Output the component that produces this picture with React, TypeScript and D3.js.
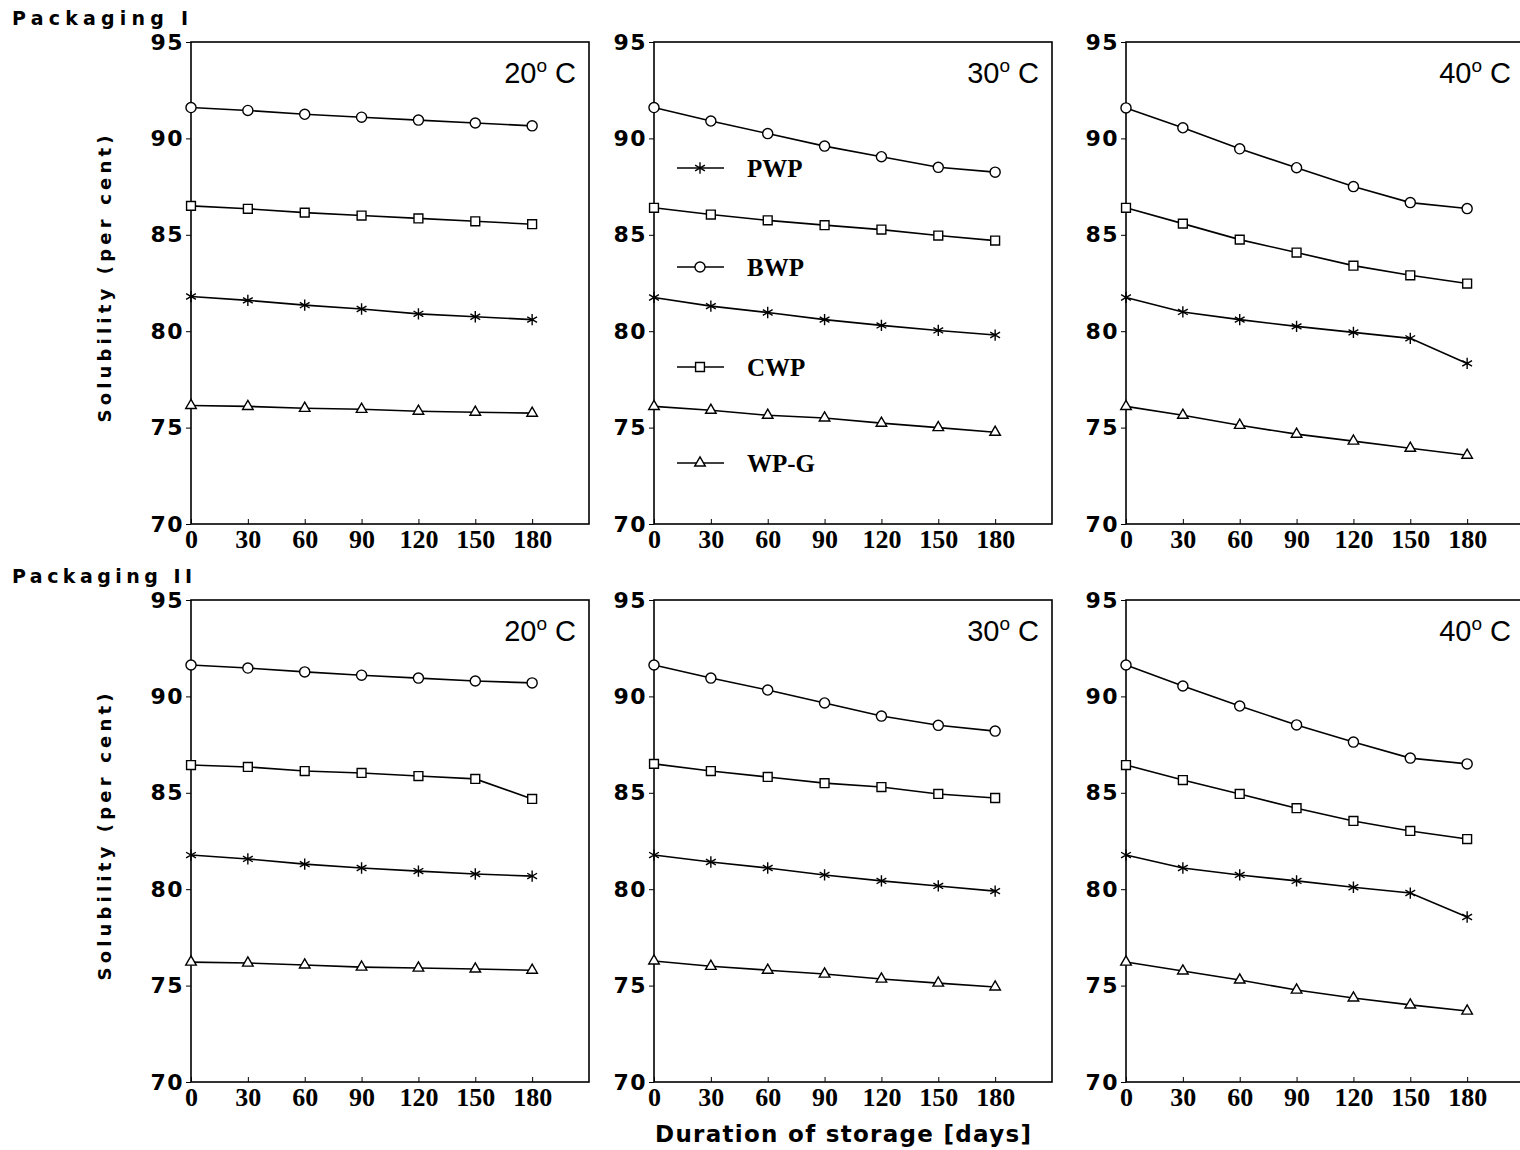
import * as d3 from 'd3'
import React, { useRef, useEffect } from 'react'

// storage days and axis ticks
const days = [0, 30, 60, 90, 120, 150, 180]
const yTicks = [70, 75, 80, 85, 90, 95]
const seriesNames = ['PWP', 'BWP', 'CWP', 'WP-G']
const tempLabels = ['20', '30', '40']
const packLabels = ['Packaging I', 'Packaging II']

// Packaging I
const pwpI20 = [81.8, 81.6, 81.35, 81.15, 80.9, 80.75, 80.6]
const bwpI20 = [91.6, 91.45, 91.25, 91.1, 90.95, 90.8, 90.65]
const cwpI20 = [86.5, 86.35, 86.15, 86.0, 85.85, 85.7, 85.55]
const wpgI20 = [76.15, 76.1, 76.0, 75.95, 75.85, 75.8, 75.75]

const pwpI30 = [81.75, 81.3, 80.97, 80.6, 80.3, 80.04, 79.8]
const bwpI30 = [91.6, 90.9, 90.25, 89.6, 89.05, 88.5, 88.25]
const cwpI30 = [86.4, 86.05, 85.75, 85.5, 85.27, 84.96, 84.7]
const wpgI30 = [76.1, 75.9, 75.64, 75.5, 75.23, 75.0, 74.76]

const pwpI40 = [81.75, 81.0, 80.6, 80.25, 79.94, 79.63, 78.33]
const bwpI40 = [91.58, 90.55, 89.46, 88.48, 87.5, 86.67, 86.36]
const cwpI40 = [86.4, 85.58, 84.75, 84.08, 83.4, 82.9, 82.47]
const wpgI40 = [76.1, 75.64, 75.12, 74.66, 74.3, 73.93, 73.57]

// Packaging II
const pwpII20 = [81.77, 81.57, 81.3, 81.1, 80.94, 80.79, 80.68]
const bwpII20 = [91.63, 91.47, 91.27, 91.1, 90.95, 90.8, 90.7]
const cwpII20 = [86.44, 86.34, 86.13, 86.03, 85.87, 85.72, 84.68]
const wpgII20 = [76.22, 76.17, 76.07, 75.96, 75.91, 75.86, 75.8]

const pwpII30 = [81.77, 81.41, 81.1, 80.74, 80.43, 80.17, 79.9]
const bwpII30 = [91.63, 90.95, 90.33, 89.66, 88.98, 88.5, 88.2]
const cwpII30 = [86.5, 86.13, 85.82, 85.5, 85.3, 84.94, 84.73]
const wpgII30 = [76.28, 76.0, 75.8, 75.6, 75.34, 75.13, 74.93]

const pwpII40 = [81.77, 81.1, 80.74, 80.43, 80.1, 79.8, 78.56]
const bwpII40 = [91.63, 90.54, 89.5, 88.52, 87.63, 86.8, 86.5]
const cwpII40 = [86.44, 85.66, 84.94, 84.2, 83.54, 83.02, 82.6]
const wpgII40 = [76.22, 75.76, 75.29, 74.77, 74.36, 74.0, 73.68]

const panels = [
  { row: 0, col: 0, series: [pwpI20, bwpI20, cwpI20, wpgI20] },
  { row: 0, col: 1, series: [pwpI30, bwpI30, cwpI30, wpgI30] },
  { row: 0, col: 2, series: [pwpI40, bwpI40, cwpI40, wpgI40] },
  { row: 1, col: 0, series: [pwpII20, bwpII20, cwpII20, wpgII20] },
  { row: 1, col: 1, series: [pwpII30, bwpII30, cwpII30, wpgII30] },
  { row: 1, col: 2, series: [pwpII40, bwpII40, cwpII40, wpgII40] },
]

const colX = [191, 654, 1126]
const rowY = [42, 600]
const plotW = 398
const plotH = 482

const symbols = [d3.symbolAsterisk, d3.symbolCircle, d3.symbolSquare2, d3.symbolTriangle2]
const symSizes = [90, 80, 100, 80]

const App = () => {
  const ref = useRef<SVGSVGElement>(null)

  useEffect(() => {
    const svg = d3.select(ref.current)
    svg.selectAll('*').remove()

    const x = d3.scaleLinear().domain([0, 210]).range([0, plotW])
    const y = d3.scaleLinear().domain([70, 95]).range([plotH, 0])
    const line = d3.line<number>()
      .x((d, i) => x(days[i]))
      .y(d => y(d))

    panels.forEach(p => {
      const g = svg.append('g')
        .attr('transform', `translate(${colX[p.col]},${rowY[p.row]})`)

      // frame
      g.append('rect')
        .attr('width', plotW).attr('height', plotH)
        .attr('fill', 'none').attr('stroke', '#000').attr('stroke-width', 1.6)

      const yAx = g.append('g')
        .call(d3.axisLeft(y).tickValues(yTicks).tickSize(5).tickPadding(2).tickFormat(d3.format('d')))
      yAx.select('.domain').remove()
      yAx.selectAll('text')
        .attr('font-family', 'DejaVu Sans').attr('font-weight', 'bold')
        .attr('font-size', 22).attr('fill', '#000').attr('letter-spacing', 1.5)

      const xAx = g.append('g')
        .attr('transform', `translate(0,${plotH})`)
        .call(d3.axisBottom(x).tickValues(days).tickSizeInner(-5).tickSizeOuter(0).tickPadding(6))
      xAx.select('.domain').remove()
      xAx.selectAll('text')
        .attr('font-family', 'Liberation Serif').attr('font-weight', 'bold')
        .attr('font-size', 26).attr('fill', '#000')

      // temperature
      const t = g.append('text')
        .attr('x', plotW - 13).attr('y', 41)
        .attr('text-anchor', 'end')
        .attr('font-family', 'Liberation Sans')
        .attr('font-size', 29).attr('fill', '#000')
      t.append('tspan').text(tempLabels[p.col])
      t.append('tspan').text('o').attr('font-size', 19).attr('dy', -11)
      t.append('tspan').text(' C').attr('dy', 11)

      p.series.forEach((vals, si) => {
        g.append('path')
          .datum(vals)
          .attr('d', line)
          .attr('fill', 'none').attr('stroke', '#000').attr('stroke-width', 1.6)

        g.selectAll(`.m${si}`)
          .data(vals)
          .enter().append('path')
          .attr('class', `m${si}`)
          .attr('transform', (d, i) => `translate(${x(days[i])},${y(d)})`)
          .attr('d', d3.symbol().type(symbols[si]).size(symSizes[si]))
          .attr('fill', si === 0 ? 'none' : '#fff')
          .attr('stroke', '#000').attr('stroke-width', 1.4)
      })

      // legend in top-middle panel
      if (p.row === 0 && p.col === 1) {
        const legY = [126, 225, 325, 421]
        seriesNames.forEach((name, si) => {
          const lg = g.append('g').attr('transform', `translate(23,${legY[si]})`)
          lg.append('line').attr('x1', 0).attr('x2', 47)
            .attr('stroke', '#000').attr('stroke-width', 1.6)
          lg.append('path')
            .attr('transform', 'translate(23,0)')
            .attr('d', d3.symbol().type(symbols[si]).size(symSizes[si]))
            .attr('fill', si === 0 ? 'none' : '#fff')
            .attr('stroke', '#000').attr('stroke-width', 1.4)
          lg.append('text')
            .attr('x', 70).attr('y', 9)
            .attr('font-family', 'Liberation Serif').attr('font-weight', 'bold')
            .attr('font-size', 25).attr('fill', '#000')
            .text(name)
        })
      }
    })

    // packaging titles
    packLabels.forEach((lab, r) => {
      svg.append('text')
        .attr('x', 12).attr('y', rowY[r] - 17)
        .attr('font-family', 'DejaVu Sans').attr('font-weight', 'bold')
        .attr('font-size', 19).attr('fill', '#000')
        .attr('textLength', r === 0 ? 176 : 180).attr('lengthAdjust', 'spacing')
        .text(lab)

      svg.append('text')
        .attr('transform', `translate(111,${rowY[r] + 237}) rotate(-90)`)
        .attr('text-anchor', 'middle')
        .attr('font-family', 'DejaVu Sans').attr('font-weight', 'bold')
        .attr('font-size', 18).attr('fill', '#000')
        .attr('textLength', 287).attr('lengthAdjust', 'spacing')
        .text('Solubility (per cent)')
    })

    svg.append('text')
      .attr('x', 843).attr('y', 1142)
      .attr('text-anchor', 'middle')
      .attr('font-family', 'DejaVu Sans').attr('font-weight', 'bold')
      .attr('font-size', 23).attr('fill', '#000')
      .attr('textLength', 376).attr('lengthAdjust', 'spacing')
      .text('Duration of storage [days]')
  }, [])

  return (
    <svg ref={ref} width={1520} height={1150}
      style={{ position: 'absolute', left: 0, top: 0, background: '#fff' }} />
  )
}

export default App
